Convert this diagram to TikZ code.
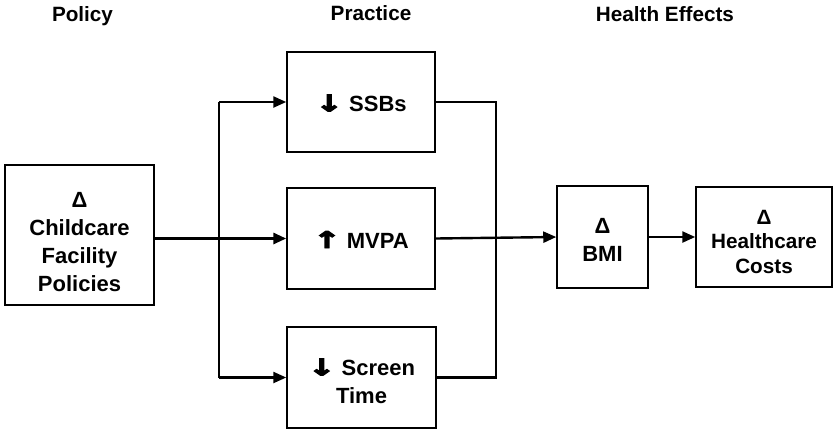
\documentclass[tikz,border=0pt]{standalone}
\usepackage{fontspec}
\usepackage{graphicx}
\setmainfont{Liberation Sans}
\newfontfamily\arrowfont[FakeBold=4]{DejaVu Sans}
\usetikzlibrary{arrows.meta}
% push the lines of a box down a little
\newcommand{\lift}[1]{\rule{0pt}{#1}}
\newcommand{\dn}{\scalebox{1.5}[1.05]{\arrowfont\bfseries ↓}}
\newcommand{\up}{\scalebox{1.5}[1.05]{\arrowfont\bfseries ↑}}

\begin{document}
\begin{tikzpicture}[
    x=1pt,y=-1pt,
    box/.style={draw,black,line width=1.5pt,align=center,inner sep=0pt,
      font=\bfseries\fontsize{22}{28}\selectfont},
    head/.style={anchor=base,font=\bfseries\fontsize{20.7}{24}\selectfont},
    link/.style={line width=2.4pt},
    arr/.style={link,-{Triangle[length=13pt,width=11pt]}}
    ]
    \useasboundingbox (0,0) rectangle (834,432);
    % column headings
    \node[head] (hpol) at (82.5,21) {Policy};
    \node[head] (hpra) at (371,20) {Practice};
    \node[head] (heff) at (665,21) {Health Effects};
    % boxes
    \node[box,minimum width=149,minimum height=140] (policy) at (79.5,235)
      {\lift{30pt}Δ\\Childcare\\Facility\\Policies};
    \node[box,minimum width=148,minimum height=100] (ssb) at (361,102)
      {\lift{19pt}\dn\ SSBs};
    \node[box,minimum width=148,minimum height=101] (mvpa) at (361,238.5)
      {\lift{19pt}\up\ MVPA};
    \node[box,minimum width=149,minimum height=101] (screen) at (361.5,377.5)
      {\lift{24pt}\dn\ Screen\\Time};
    \node[box,minimum width=91,minimum height=102] (bmi) at (602.5,237)
      {\lift{21pt}Δ\\BMI};
    \node[box,minimum width=136,minimum height=100,
      font=\bfseries\fontsize{20.7}{24.5}\selectfont] (cost) at (764,237)
      {\lift{24pt}Δ\\Healthcare\\Costs};
    % split and join lines
    \coordinate (split) at (219,0);
    \coordinate (join) at (496,0);
    \draw[arr,line width=3pt] (policy.east |- mvpa) -- (mvpa.west);
    \draw[link] (split |- ssb) -- (split |- screen);
    \draw[arr] (split |- ssb) -- (ssb.west);
    \draw[arr] (split |- screen) -- (screen.west);
    \draw[link] (ssb.east) -| (join |- screen) -- (screen.east);
    \draw[arr] (mvpa.east) -- (bmi.west);
    \draw[arr] (bmi.east) -- (cost.west);
  \end{tikzpicture}
\end{document}
